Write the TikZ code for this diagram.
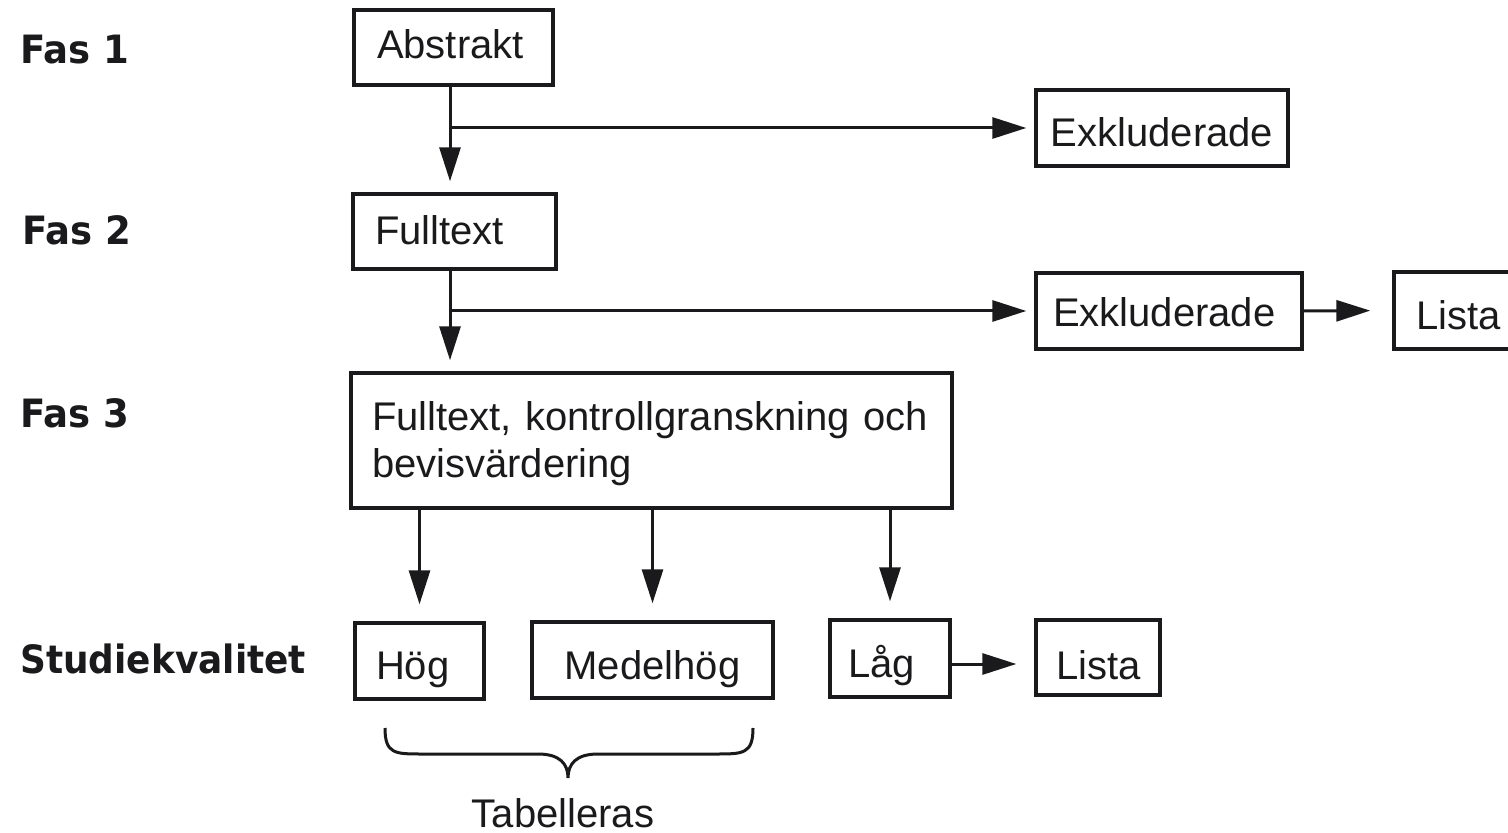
\documentclass[tikz,border=0pt]{standalone}
\usepackage{fontspec}
\setmainfont{Liberation Sans}
\newfontfamily\labfont{DejaVu Sans}
\usetikzlibrary{arrows.meta}
\definecolor{ink}{RGB}{26,26,28}
\newcommand{\labtext}[1]{\scalebox{0.95}[1]{#1}}
\begin{document}
\begin{tikzpicture}[x=0.5pt,y=-0.5pt,
  box/.style={draw=ink, line width=1.7pt, text=ink, inner ysep=0pt,
    font=\fontsize{20}{24}\selectfont, align=left, text depth=0pt},
  lab/.style={anchor=base west, text=ink, inner sep=0pt,
    font=\labfont\bfseries\fontsize{19.5}{22}\selectfont},
  line/.style={draw=ink, line width=1.5pt},
  arr/.style={line, -{Triangle[length=17pt,width=10.5pt]}}]
\useasboundingbox (0,0) rectangle (1508,833);
\clip (0,0) rectangle (1508,833);

% phase labels
\node[lab] (f1) at (20,64) {\labtext{Fas 1}};
\node[lab] (f2) at (22,245) {\labtext{Fas 2}};
\node[lab] (f3) at (20,428) {\labtext{Fas 3}};
\node[lab] (sk) at (20,673) {\scalebox{0.92}[1]{Studiekvalitet}};

% boxes
\node[box, text width=76.5pt, inner xsep=11.5pt, minimum height=37.5pt, text height=11.5pt] (abs) at (453.5,47.5) {Abstrakt};
\node[box, text width=112pt, inner xsep=7pt, minimum height=38pt, align=center, text height=19pt] (exk1) at (1162,128) {Exkluderade};
\node[box, text width=79.5pt, inner xsep=11pt, minimum height=37.5pt, text height=13.5pt] (full) at (454.5,231.5) {Fulltext};
\node[box, text width=116pt, inner xsep=8.5pt, minimum height=38pt, text height=16pt] (exk2) at (1169,311) {Exkluderade};
\node[box, text width=43pt, inner xsep=11pt, minimum height=38.5pt, text height=19.5pt] (lista1) at (1459,310.5) {Lista};
\node[box, text width=279.5pt, inner xsep=10.5pt, minimum height=67.5pt, text height=15pt, text depth=25.5pt] (big) at (651.5,440.5) {Fulltext, kontrollgranskning och\\bevisvärdering};
\node[box, text width=43.5pt, inner xsep=10.5pt, minimum height=38pt, text height=18pt] (hog) at (419.5,661) {Hög};
\node[box, text width=90.5pt, inner xsep=15pt, minimum height=38pt, align=center, text height=19pt] (med) at (652.5,660) {Medelhög};
\node[box, text width=42pt, inner xsep=9pt, minimum height=38.5pt, text height=18.5pt] (lag) at (890,658.5) {Låg};
\node[box, text width=42pt, inner xsep=10pt, minimum height=37.5pt, text height=21.5pt] (lista2) at (1098,657.5) {Lista};

% connectors
\coordinate (spine) at (450,0);
\coordinate (b1) at (spine |- exk1.west);
\coordinate (b2) at (spine |- exk2.west);
\coordinate (l3) at ([yshift=-2.75pt]lag.east);
\draw[arr, shorten >=5.5pt] (abs.south -| spine) -- (full.north -| spine);
\draw[arr, shorten >=4pt] (b1) -- (exk1.west);
\draw[arr, shorten >=5.5pt] (full.south -| spine) -- (big.north -| spine);
\draw[arr, shorten >=4pt] (b2) -- (exk2.west);
\draw[arr, shorten >=11pt] (exk2.east) -- (lista1.west);
\draw[arr, shorten >=8.5pt] (big.south -| hog.north) -- (hog.north);
\draw[arr, shorten >=8.5pt] (big.south -| med.north) -- (med.north);
\draw[arr, shorten >=8.5pt] (big.south -| lag.north) -- (lag.north);
\draw[arr, shorten >=9pt] (l3) -- (l3 -| lista2.west);

% brace
\draw[line] (385,728) .. controls (385,754) and (395,754) .. (422,754)
  -- (538,754) .. controls (560,754) and (568,764) .. (568,778)
  .. controls (568,764) and (576,754) .. (598,754)
  -- (716,754) .. controls (743,754) and (753,754) .. (753,728);
\node[anchor=base, text=ink, inner sep=0pt, font=\fontsize{20}{24}\selectfont] (tab) at (563,827) {Tabelleras};
\end{tikzpicture}
\end{document}
